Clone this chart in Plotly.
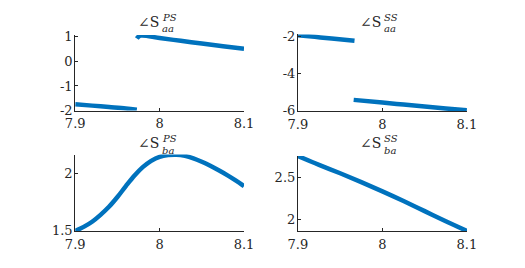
import plotly.graph_objects as go

BLUE = "rgb(0,114,189)"
AX = "rgb(38,38,38)"

# Top-left: angle S_aa^PS (two segments)
tl_x1 = [7.900, 7.920, 7.940, 7.960, 7.973]
tl_y1 = [-1.74, -1.80, -1.86, -1.92, -1.97]
tl_x2 = [7.973, 7.977, 8.000, 8.025, 8.050, 8.075, 8.100]
tl_y2 = [0.93, 1.05, 0.95, 0.84, 0.73, 0.62, 0.52]

# Top-right: angle S_aa^SS (two segments)
tr_x1 = [7.900, 7.920, 7.940, 7.967]
tr_y1 = [-1.95, -2.04, -2.13, -2.25]
tr_x2 = [7.966, 8.000, 8.025, 8.050, 8.075, 8.100]
tr_y2 = [-5.41, -5.55, -5.66, -5.76, -5.87, -5.97]

# Bottom-left: angle S_ba^PS
bl_x = [7.90, 7.91, 7.92, 7.93, 7.94, 7.95, 7.96, 7.97, 7.98, 7.99, 8.00,
        8.01, 8.02, 8.03, 8.04, 8.05, 8.06, 8.07, 8.08, 8.09, 8.10]
bl_y = [1.50, 1.535, 1.58, 1.64, 1.71, 1.795, 1.89, 1.98, 2.055, 2.11, 2.145,
        2.16, 2.163, 2.153, 2.132, 2.102, 2.067, 2.028, 1.986, 1.94, 1.89]

# Bottom-right: angle S_ba^SS
br_x = [7.900, 7.925, 7.950, 7.975, 8.000, 8.025, 8.050, 8.075, 8.100]
br_y = [2.75, 2.645, 2.545, 2.44, 2.33, 2.215, 2.095, 1.975, 1.86]

x_ticks = [7.9, 8.0, 8.1]
x_ticktext = ["7.9", "8", "8.1"]

fig = go.Figure()

def add(xs, ys, xa, ya):
    fig.add_trace(go.Scatter(x=xs, y=ys, mode="lines", xaxis=xa, yaxis=ya,
                             line=dict(color=BLUE, width=4.5, shape="spline", smoothing=1.0),
                             showlegend=False, hoverinfo="skip"))

add(tl_x1, tl_y1, "x", "y")
add(tl_x2, tl_y2, "x", "y")
add(tr_x1, tr_y1, "x2", "y2")
add(tr_x2, tr_y2, "x2", "y2")
add(bl_x, bl_y, "x3", "y3")
add(br_x, br_y, "x4", "y4")

W, H = 525, 268
SERIF = "DejaVu Serif"
FONT = dict(family=SERIF, size=13, color=AX)

def px(v):
    return v / W

def py(v):
    return 1 - v / H

common = dict(showline=True, linecolor=AX, linewidth=1, ticks="inside", ticklen=3,
              tickcolor=AX, showgrid=False, zeroline=False, mirror=False,
              tickfont=FONT)
xcommon = dict(common, ticklabelstandoff=1)
ycommon = dict(common, ticklabelstandoff=-1)

left = [px(67.8), px(243.3)]
right = [px(299.3), px(475)]
top = [py(110.3), py(30.5)]
bot = [py(237.3), py(156.7)]

layout = dict(
    width=W, height=H, margin=dict(l=0, r=0, t=0, b=0),
    paper_bgcolor="white", plot_bgcolor="white",
    xaxis=dict(domain=left, range=[7.9, 8.1], tickvals=x_ticks, ticktext=x_ticktext, anchor="y", **xcommon),
    yaxis=dict(domain=top, range=[-2.0, 1.08], tickvals=[-2, -1, 0, 1], ticktext=["-2", "-1", "0", "1"], anchor="x", **ycommon),
    xaxis2=dict(domain=right, range=[7.9, 8.1], tickvals=x_ticks, ticktext=x_ticktext, anchor="y2", **xcommon),
    yaxis2=dict(domain=[py(110.7), py(30)], range=[-6.0, -1.91], tickvals=[-6, -4, -2], ticktext=["-6", "-4", "-2"], anchor="x2", **ycommon),
    xaxis3=dict(domain=left, range=[7.9, 8.1], tickvals=x_ticks, ticktext=x_ticktext, anchor="y3", **xcommon),
    yaxis3=dict(domain=bot, range=[1.5, 2.165], tickvals=[1.5, 2], ticktext=["1.5", "2"], anchor="x3", **ycommon),
    xaxis4=dict(domain=right, range=[7.9, 8.1], tickvals=x_ticks, ticktext=x_ticktext, anchor="y4", **xcommon),
    yaxis4=dict(domain=[py(237.3), py(158.3)], range=[1.86, 2.75], tickvals=[2, 2.5], ticktext=["2", "2.5"], anchor="x4", **ycommon),
)
fig.update_layout(**layout)

titles = [
    (157, 17, "PS", "aa"),
    (388, 17, "SS", "aa"),
    (157, 145, "PS", "ba"),
    (388, 145, "SS", "ba"),
]
for cx, cy, sup, sub in titles:
    fig.add_annotation(x=px(cx), y=py(cy), xref="paper", yref="paper", text="∠S",
                       showarrow=False, xanchor="right", yanchor="middle",
                       font=dict(family=SERIF, size=14, color=AX))
    fig.add_annotation(x=px(cx - 1), y=py(cy - 5), xref="paper", yref="paper", text="<i>" + sup + "</i>",
                       showarrow=False, xanchor="left", yanchor="middle",
                       font=dict(family=SERIF, size=10, color=AX))
    fig.add_annotation(x=px(cx - 1), y=py(cy + 7), xref="paper", yref="paper", text="<i>" + sub + "</i>",
                       showarrow=False, xanchor="left", yanchor="middle",
                       font=dict(family=SERIF, size=10, color=AX))

fig.write_html("out.html", config={"displayModeBar": False},
               post_script="document.body.style.margin='0';document.body.style.overflow='hidden';")
